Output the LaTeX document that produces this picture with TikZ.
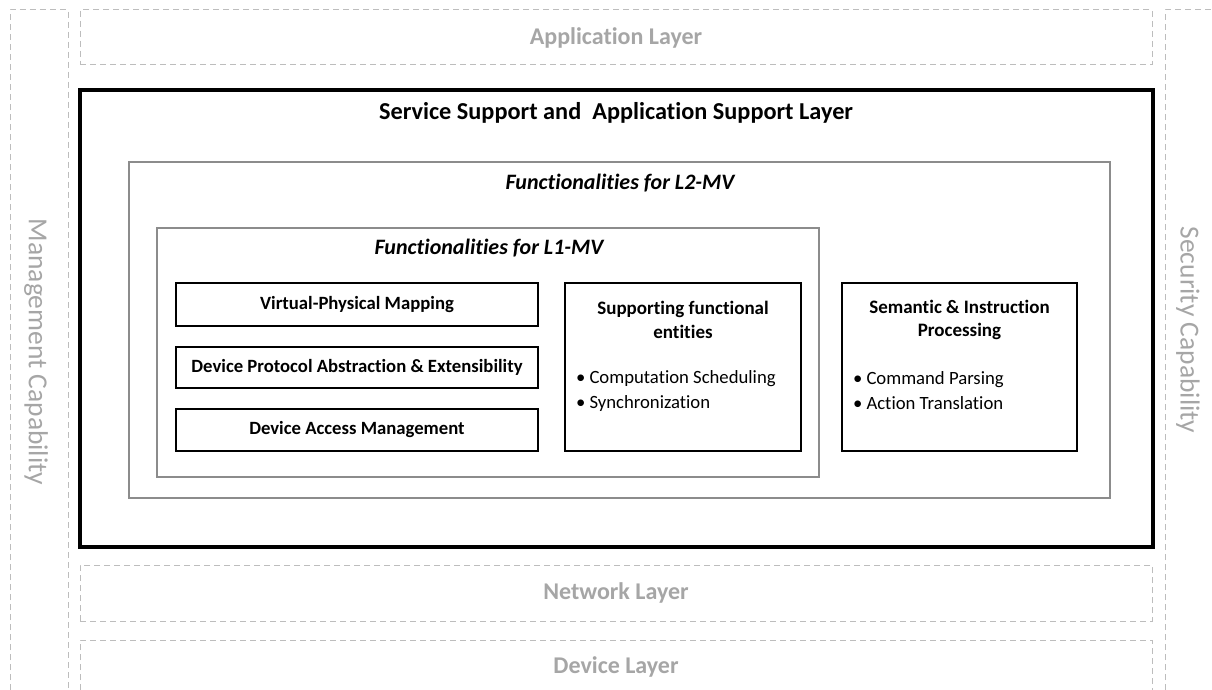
\documentclass[tikz,border=0pt]{standalone}
\usepackage{fontspec}
\setmainfont{Carlito}[Ligatures={TeX,NoCommon}]
\definecolor{dashgray}{HTML}{BDBDBD}
\definecolor{labelgray}{HTML}{A6A6A6}
\definecolor{framegray}{HTML}{8C8C8C}
\begin{document}
\begin{tikzpicture}[x=1pt,y=-1pt,
  layerbox/.style={draw=dashgray, dash pattern=on 6pt off 4pt, line width=1pt},
  layertext/.style={text=labelgray, font=\bfseries\fontsize{24}{28}\selectfont, inner sep=0pt},
  sidetext/.style={text=labelgray, font=\fontsize{27.5}{32}\selectfont, inner sep=0pt, rotate=-90},
  layernode/.style={layerbox, minimum width=1072pt, text=labelgray,
    font=\bfseries\fontsize{24}{28}\selectfont, inner sep=0pt},
  groupbox/.style={draw=framegray, line width=1.8pt, inner sep=0pt},
  grouptitle/.style={font=\bfseries\itshape\fontsize{22}{26}\selectfont, inner sep=0pt},
  funcbox/.style={draw=black, line width=1.4pt, inner sep=0pt,
    font=\bfseries\fontsize{18.7}{22}\selectfont},
  boxtitle/.style={font=\bfseries\fontsize{19}{23.5}\selectfont, align=center, inner sep=0pt},
  bullets/.style={font=\fontsize{18.7}{25}\selectfont, align=left, inner sep=0pt, anchor=west}
]
\clip (0,0) rectangle (1212,690);
\fill[white] (0,0) rectangle (1212,690);

% side capabilities (open at the bottom / right)
\draw[layerbox] (10,720) -- (10,10) -- (68,10) -- (68,720);
\draw[layerbox] (1165,720) -- (1165,10) -- (1240,10);
\node[sidetext] (mgmt) at (36,352) {Management Capability};
\node[sidetext] (sec) at (1188,330) {Security Capability};

% horizontal layers
\node[layernode, minimum height=55pt] (app) at (616,37.5) {Application Layer};
\node[layernode, minimum height=56pt] (net) at (616,593) {Network Layer};
\draw[layerbox] (80,720) -- (80,640) -- (1152,640) -- (1152,720);
\node[layertext] (dev) at (616,667) {Device Layer};

% service support and application support layer
\node[draw=black, line width=3.5pt, minimum width=1073pt, minimum height=457pt, inner sep=0pt]
  (ssl) at (616.5,318.5) {};
\node[font=\bfseries\fontsize{24.3}{28}\selectfont, inner sep=0pt] (ssltitle) at (616,113)
  {Service Support and~ Application Support Layer};

% L2-MV functionalities
\node[groupbox, minimum width=981pt, minimum height=336pt] (l2) at (619.5,330) {};
\node[grouptitle] (l2title) at (620,183) {Functionalities for L2-MV};

% L1-MV functionalities
\node[groupbox, minimum width=662pt, minimum height=249pt] (l1) at (488,352.5) {};
\node[grouptitle] (l1title) at (489,248) {Functionalities for L1-MV};

\node[funcbox, minimum width=362pt, minimum height=43pt] (vpm) at (357,304.5) {Virtual-Physical Mapping};
\node[funcbox, minimum width=362pt, minimum height=41pt] (dpa) at (357,367.5) {Device Protocol Abstraction \& Extensibility};
\node[funcbox, minimum width=362pt, minimum height=42pt] (dam) at (357,430) {Device Access Management};

\node[funcbox, minimum width=236pt, minimum height=168pt] (sfe) at (683,367) {};
\node[boxtitle] (sfetitle) at (683,320) {Supporting functional\\entities};
\node[bullets] (sfelist) at (576,391) {•\hspace{4pt}Computation Scheduling\\•\hspace{4pt}Synchronization};

\node[funcbox, minimum width=235pt, minimum height=168pt] (sip) at (959.5,367) {};
\node[boxtitle] (siptitle) at (959.5,320) {Semantic \& Instruction\\Processing};
\node[bullets] (siplist) at (853,391) {•\hspace{4pt}Command Parsing\\•\hspace{4pt}Action Translation};
\end{tikzpicture}
\end{document}
